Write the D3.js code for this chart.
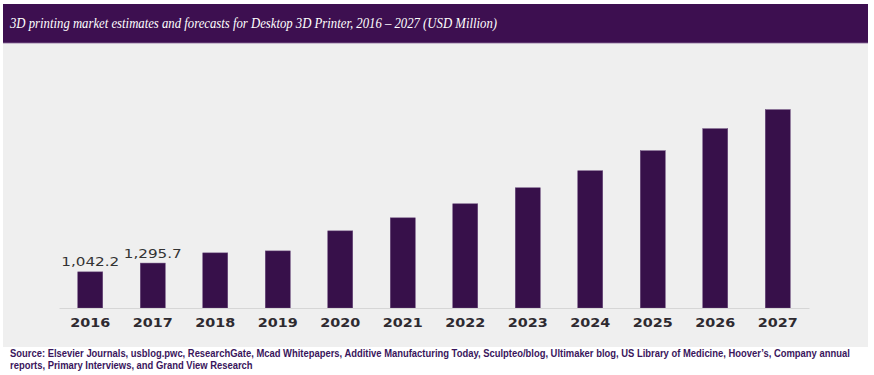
<!DOCTYPE html>
<html>
<head>
<meta charset="utf-8">
<script src="https://cdn.jsdelivr.net/npm/d3@7"></script>
<style>
  html, body { margin: 0; padding: 0; background: #ffffff; }
  svg { display: block; }
</style>
</head>
<body>
<svg id="chart" width="874" height="375"></svg>
<script>
const years = ["2016","2017","2018","2019","2020","2021","2022","2023","2024","2025","2026","2027"];
const values = [1042.2, 1295.7, 1590, 1647, 2225, 2601, 3006, 3468, 3959, 4537, 5173, 5722];
const valueLabels = ["1,042.2", "1,295.7", "", "", "", "", "", "", "", "", "", ""];
const titleText = "3D printing market estimates and forecasts for Desktop 3D Printer, 2016 \u2013 2027 (USD Million)";
const sourceLines = [
  "Source: Elsevier Journals, usblog.pwc, ResearchGate, Mcad Whitepapers, Additive Manufacturing Today, Sculpteo/blog, Ultimaker blog, US Library of Medicine, Hoover\u2019s, Company annual",
  "reports, Primary Interviews, and Grand View Research"
];

const svg = d3.select("#chart");

// panel background
svg.append("rect").attr("x", 3).attr("y", 43).attr("width", 865).attr("height", 304).attr("fill", "#efefef");
// title bar
svg.append("rect").attr("x", 3).attr("y", 4).attr("width", 865).attr("height", 39).attr("fill", "#3d0f50");
svg.append("line").attr("x1", 3).attr("x2", 868).attr("y1", 43).attr("y2", 43).attr("stroke", "#8a6a9a").attr("stroke-width", 0.8);
svg.append("text")
  .attr("x", 10).attr("y", 28)
  .attr("fill", "#ffffff")
  .attr("font-family", "'Liberation Serif', 'DejaVu Serif', serif")
  .attr("font-style", "italic")
  .attr("font-size", 15)
  .attr("textLength", 487)
  .attr("lengthAdjust", "spacingAndGlyphs")
  .text(titleText);

const x = d3.scaleBand().domain(years).range([59, 809]).paddingInner(0.6).paddingOuter(0.3);
const y = d3.scaleLinear().domain([0, 6000]).range([308, 100]);

// bars
svg.append("g").selectAll("rect").data(years).join("rect")
  .attr("x", d => x(d))
  .attr("width", x.bandwidth())
  .attr("y", (d, i) => y(values[i]))
  .attr("height", (d, i) => y(0) - y(values[i]))
  .attr("fill", "#37104a")
  .attr("stroke", "#6a4a7c")
  .attr("stroke-width", 0.5);

// value labels
svg.append("g").selectAll("text").data(years.filter((d, i) => valueLabels[i] !== "")).join("text")
  .attr("x", d => x(d) + x.bandwidth() / 2)
  .attr("y", d => y(values[years.indexOf(d)]) - 5.5)
  .attr("text-anchor", "middle")
  .attr("fill", "#333333")
  .attr("font-family", "'DejaVu Sans', Verdana, sans-serif")
  .attr("font-size", 12)
  .attr("textLength", 58)
  .attr("lengthAdjust", "spacingAndGlyphs")
  .text(d => valueLabels[years.indexOf(d)]);

// x axis
const axis = svg.append("g")
  .attr("transform", `translate(0,${y(0)})`)
  .call(d3.axisBottom(x).tickSize(0).tickSizeOuter(0));
axis.select(".domain").attr("stroke", "#d6d6d6").attr("stroke-width", 1);
axis.selectAll(".tick text")
  .attr("y", 19)
  .attr("dy", null)
  .attr("fill", "#2e2a30")
  .attr("font-family", "'DejaVu Sans', Verdana, sans-serif")
  .attr("font-weight", "bold")
  .attr("font-size", 11.5)
  .attr("textLength", 40)
  .attr("lengthAdjust", "spacingAndGlyphs");

// source (horizontally scaled to fit the target widths)
const sourceWidths = [841, 243];
svg.append("g").selectAll("text").data(sourceLines).join("text")
  .attr("x", 0)
  .attr("y", 0)
  .attr("fill", "#3a165c")
  .attr("font-family", "'Liberation Sans Narrow', 'Liberation Sans', Arial, sans-serif")
  .attr("font-weight", "bold")
  .attr("font-size", 10)
  .text(d => d)
  .each(function(d, i) {
    const natural = this.getComputedTextLength();
    const sx = sourceWidths[i] / natural;
    d3.select(this).attr("transform", `translate(10,${357 + i * 11.5}) scale(${sx},1)`);
  });
</script>
</body>
</html>
